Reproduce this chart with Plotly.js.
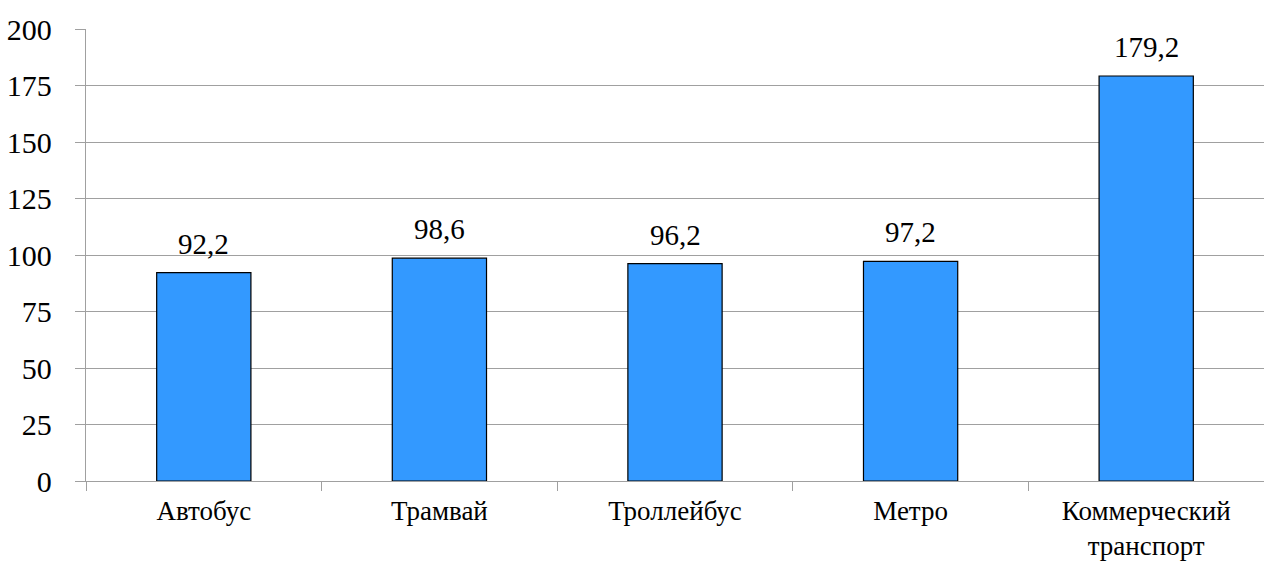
<!DOCTYPE html>
<html>
<head>
<meta charset="utf-8">
<script src="https://cdn.plot.ly/plotly-3.0.1.min.js"></script>
<style>html,body{margin:0;padding:0;background:#fff;}</style>
</head>
<body>
<div id="chart"></div>
<script>
var categories = ['Автобус', 'Трамвай', 'Троллейбус', 'Метро', 'Коммерческий<br>транспорт'];
var values = [92.2, 98.6, 96.2, 97.2, 179.2];
var yTicks = [0, 25, 50, 75, 100, 125, 150, 175, 200];

var labels = values.map(function (v) { return v.toFixed(1).replace('.', ','); });
var FONT = 'Liberation Serif';

var trace = {
  type: 'bar',
  x: categories,
  y: values,
  marker: {color: '#3399FF', line: {color: '#000', width: 1.2}},
  width: 0.4,
  hoverinfo: 'none'
};

var annotations = categories.map(function (c, i) {
  return {
    x: c, y: values[i], xref: 'x', yref: 'y',
    text: labels[i], showarrow: false,
    yanchor: 'bottom', yshift: 11,
    font: {family: FONT, size: 29, color: '#000'}
  };
});

var layout = {
  width: 1264,
  height: 565,
  margin: {l: 86, r: 0, t: 29, b: 84},
  paper_bgcolor: '#fff',
  plot_bgcolor: '#fff',
  showlegend: false,
  annotations: annotations,
  xaxis: {
    type: 'category',
    range: [-0.5, 4.5],
    showline: true,
    linecolor: '#a0a0a0',
    linewidth: 1.3,
    ticks: 'outside',
    tickson: 'boundaries',
    ticklen: 9,
    tickcolor: '#a0a0a0',
    tickwidth: 1.3,
    showgrid: false,
    ticklabelstandoff: 5,
    tickfont: {family: FONT, size: 27, color: '#000'}
  },
  yaxis: {
    range: [0, 200],
    tickvals: yTicks,
    ticktext: yTicks.map(String),
    showline: true,
    linecolor: '#a0a0a0',
    linewidth: 1.3,
    ticks: 'outside',
    ticklen: 10,
    tickcolor: '#a0a0a0',
    tickwidth: 1.3,
    showgrid: true,
    gridcolor: '#a0a0a0',
    gridwidth: 1.3,
    zeroline: false,
    ticklabelstandoff: 17,
    tickfont: {family: FONT, size: 30, color: '#000'}
  }
};

Plotly.newPlot('chart', [trace], layout, {displayModeBar: false}).then(function (gd) {
  var texts = gd.querySelectorAll('text');
  for (var i = 0; i < texts.length; i++) {
    texts[i].style.setProperty('font-family', '"Liberation Serif", "Times New Roman", serif', 'important');
  }
});
</script>
</body>
</html>
